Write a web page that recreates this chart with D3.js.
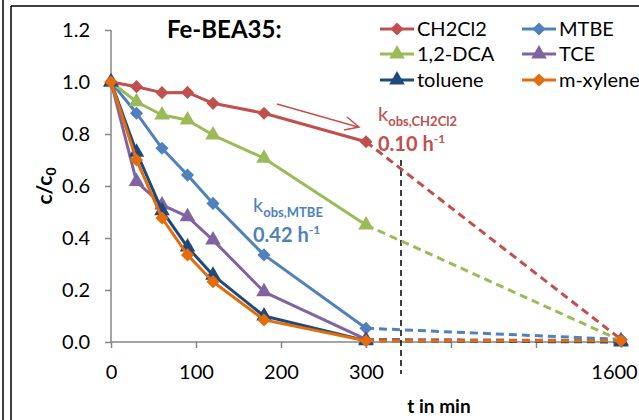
<!DOCTYPE html>
<html><head><meta charset="utf-8">
<script src="https://cdn.jsdelivr.net/npm/d3@7"></script>
<style>body{margin:0;background:#fff}svg{display:block}</style>
</head><body>
<svg id="c" width="639" height="420"></svg>
<script>
const times = [0, 30, 60, 90, 120, 180, 300, 1600];
const seriesNames = ["CH2Cl2", "MTBE", "1,2-DCA", "TCE", "toluene", "m-xylene"];
const ch2cl2 = [1.0, 0.982, 0.959, 0.96, 0.918, 0.88, 0.77, 0.01];
const mtbe = [1.0, 0.88, 0.745, 0.642, 0.533, 0.335, 0.053, 0.01];
const dca = [1.0, 0.924, 0.873, 0.854, 0.796, 0.707, 0.45, 0.005];
const tce = [1.0, 0.617, 0.527, 0.482, 0.392, 0.193, 0.01, 0.005];
const toluene = [1.0, 0.73, 0.505, 0.365, 0.257, 0.10, 0.005, 0.0];
const mxylene = [1.0, 0.70, 0.477, 0.335, 0.232, 0.085, 0.005, 0.005];
const yTicks = [0, 0.2, 0.4, 0.6, 0.8, 1.0, 1.2];
const xTickLabels = [0, 100, 200, 300, null, null, 1600];
const xTickValues = [0, 100, 200, 300, 733.33, 1166.67, 1600];

const colors = ["#C0504D", "#4F81BD", "#9BBB59", "#8064A2", "#1F497D", "#E46C0A"];
const shapes = ["diamond", "diamond", "triangle", "triangle", "triangle", "diamond"];
const values = [ch2cl2, mtbe, dca, tce, toluene, mxylene];

const svg = d3.select("#c");
const font = "Lato, 'Open Sans', sans-serif";

// frame
svg.append("line").attr("x1",3).attr("x2",3).attr("y1",0).attr("y2",420).attr("stroke","#000").attr("stroke-width",1.5);
svg.append("line").attr("x1",11).attr("x2",11).attr("y1",6).attr("y2",420).attr("stroke","#000").attr("stroke-width",1.5);
svg.append("line").attr("x1",11).attr("x2",639).attr("y1",6).attr("y2",6).attr("stroke","#000").attr("stroke-width",1.5);

const x = d3.scaleLinear().domain([0, 300, 1600]).range([111, 366, 621]);
const y = d3.scaleLinear().domain([0, 1.2]).range([342, 30]);

// axes
const axisColor = "#868686";
const yAxis = svg.append("g").attr("transform","translate(111,0)")
  .call(d3.axisLeft(y).tickValues(yTicks).tickSize(6).tickPadding(15).tickFormat(d3.format(".1f")));
const xAxis = svg.append("g").attr("transform","translate(0,342)")
  .call(d3.axisBottom(x).tickValues(xTickValues).tickSize(6).tickPadding(17)
    .tickFormat((d,i)=> xTickLabels[i]===null ? "" : xTickLabels[i]));
[yAxis, xAxis].forEach(g=>{
  g.select(".domain").attr("stroke",axisColor).attr("stroke-width",1.5);
  g.selectAll(".tick line").attr("stroke",axisColor).attr("stroke-width",1.5);
  g.selectAll(".tick text").attr("fill","#000").style("font-family",font).style("font-size","20px");
});
xAxis.selectAll(".tick text").filter((d,i)=>i===6).attr("dx",-7);
xAxis.select(".domain").attr("d","M111,0H621");
yAxis.select(".domain").attr("d","M0,342V30");

// dashed vertical line
svg.append("line").attr("x1",401).attr("x2",401).attr("y1",160).attr("y2",374)
  .attr("stroke","#000").attr("stroke-width",1.5).attr("stroke-dasharray","6,4");

const line = d3.line().x((d,i)=>x(d[0])).y(d=>y(d[1]));
const diamond = d3.symbol().type(d3.symbolDiamond2).size(110);
const triangle = d3.symbol().type(d3.symbolTriangle).size(105);

values.forEach((vals, s) => {
  const pts = times.map((t,i)=>[t, vals[i]]);
  const g = svg.append("g");
  g.append("path").attr("d", line(pts.slice(0,7))).attr("fill","none")
    .attr("stroke",colors[s]).attr("stroke-width",3).attr("stroke-linejoin","round");
  g.append("path").attr("d", line(pts.slice(6))).attr("fill","none")
    .attr("stroke",colors[s]).attr("stroke-width",3).attr("stroke-dasharray","8,5");
  g.selectAll("path.m").data(pts).enter().append("path").attr("class","m")
    .attr("transform", d=>`translate(${x(d[0])},${y(d[1])})`)
    .attr("d", shapes[s]==="diamond" ? diamond() : triangle())
    .attr("fill", colors[s]);
});

// title
svg.append("text").attr("x",167).attr("y",38).text("Fe-BEA35:")
  .style("font-family",font).style("font-weight","bold").style("font-size","24px");

// axis titles
svg.append("text").attr("x",439).attr("y",413).attr("text-anchor","middle").text("t in min")
  .style("font-family",font).style("font-weight","bold").style("font-size","19px");
const yt = svg.append("text").attr("transform","translate(52,186) rotate(-90)").attr("text-anchor","middle")
  .style("font-family",font).style("font-weight","bold").style("font-size","21px");
yt.append("tspan").text("c/c");
yt.append("tspan").text("0").attr("dy",4).style("font-size","14px");

// legend
const legPos = [[380,29],[522,29],[380,54],[522,54],[380,80],[522,80]];
seriesNames.forEach((n,s)=>{
  const [lx,ly] = legPos[s];
  const g = svg.append("g");
  g.append("line").attr("x1",lx).attr("x2",lx+34).attr("y1",ly).attr("y2",ly)
    .attr("stroke",colors[s]).attr("stroke-width",3);
  g.append("path").attr("transform",`translate(${lx+17},${ly})`)
    .attr("d", shapes[s]==="diamond" ? diamond() : triangle()).attr("fill",colors[s]);
  g.append("text").attr("x",lx+37).attr("y",ly+7).text(n)
    .style("font-family",font).style("font-size","20px");
});

// arrow
const red = "#C0504D";
svg.append("line").attr("x1",277).attr("y1",104).attr("x2",358).attr("y2",127)
  .attr("stroke",red).attr("stroke-width",1.5);
svg.append("path").attr("d","M347,117 L359,127 L344,130").attr("fill","none")
  .attr("stroke",red).attr("stroke-width",1.5);

// annotations
function kLabel(xp, yp, sub, val, col){
  const t = svg.append("text").attr("x",xp).attr("y",yp).attr("fill",col)
    .style("font-family",font).style("font-size","20px");
  t.append("tspan").text("k");
  t.append("tspan").text("obs,"+sub).attr("dy",5).style("font-size","13px").style("font-weight","bold");
  const t2 = svg.append("text").attr("x",xp).attr("y",yp+30).attr("fill",col)
    .style("font-family",font).style("font-size","20px").style("font-weight","bold");
  t2.append("tspan").text(val+" h");
  t2.append("tspan").text("-1").attr("dy",-8).style("font-size","12px");
}
kLabel(378, 121, "CH2Cl2", "0.10", red);
kLabel(253, 212, "MTBE", "0.42", "#4F81BD");
</script>
</body></html>
